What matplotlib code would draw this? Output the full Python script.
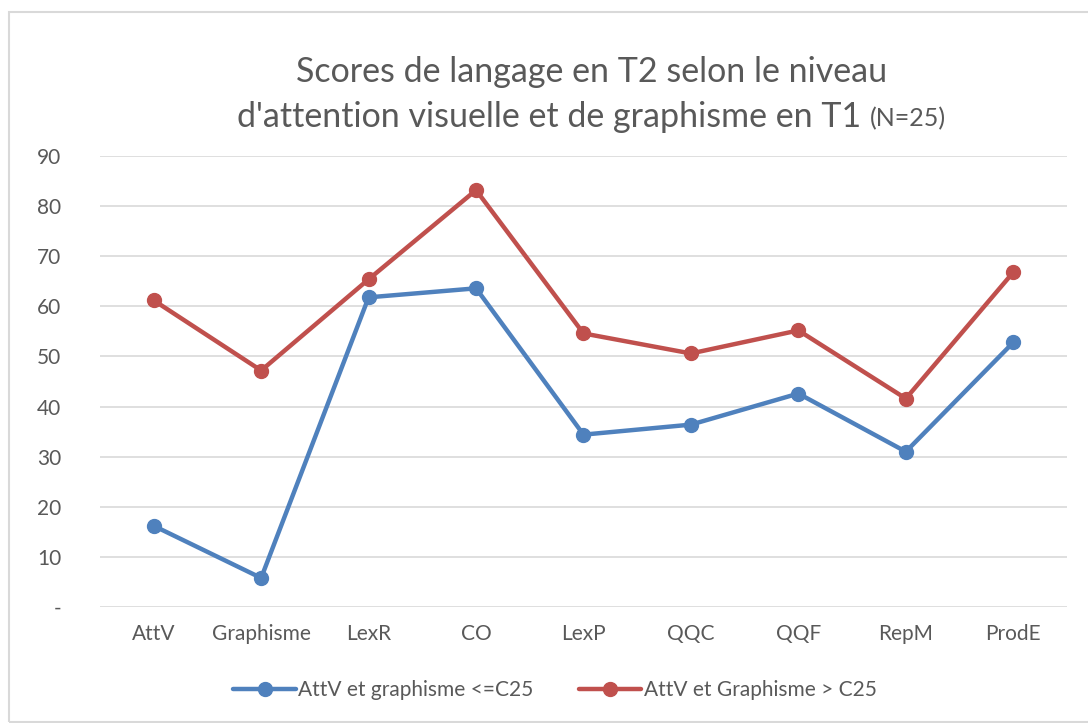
import matplotlib
matplotlib.use("Agg")
import matplotlib.pyplot as plt
from matplotlib.patches import Rectangle

plt.rcParams['font.family'] = ['Lato', 'DejaVu Sans']

# ------------------------------------------------------------------------------
# Data
# ------------------------------------------------------------------------------
categories = ["AttV", "Graphisme", "LexR", "CO", "LexP", "QQC", "QQF", "RepM", "ProdE"]
low_group = [16.2, 5.8, 61.8, 63.6, 34.4, 36.4, 42.6, 31.0, 52.8]
high_group = [61.2, 47.2, 65.4, 83.2, 54.6, 50.6, 55.2, 41.6, 66.8]
series_labels = ["AttV et graphisme <=C25", "AttV et Graphisme > C25"]
y_ticks = [0, 10, 20, 30, 40, 50, 60, 70, 80, 90]
y_tick_labels = ["-", "10", "20", "30", "40", "50", "60", "70", "80", "90"]

BLUE = "#4F81BD"
RED = "#C0504D"
TEXT = "#595959"
GRID = "#D9D9D9"

fig = plt.figure(figsize=(10.88, 7.23), dpi=100)
fig.patch.set_facecolor("white")
ax = fig.add_axes([0.0919, 0.1604, 0.8888, 0.6238])

x = range(len(categories))
for vals, color, label in [(low_group, BLUE, series_labels[0]),
                           (high_group, RED, series_labels[1])]:
    ax.plot(x, vals, color=color, lw=3.2, marker="o", markersize=10,
            label=label, solid_capstyle="round", zorder=3)

ax.set_xlim(-0.5, len(categories) - 0.5)
ax.set_ylim(0, 90)
ax.set_yticks(y_ticks)
ax.set_yticklabels(y_tick_labels)
ax.set_xticks(list(x))
ax.set_xticklabels(categories)
ax.tick_params(axis="both", length=0, labelsize=15, colors=TEXT)
ax.tick_params(axis="y", pad=28)
ax.tick_params(axis="x", pad=12)
ax.grid(axis="y", color=GRID, lw=1.2)
ax.set_axisbelow(True)
for s in ax.spines.values():
    s.set_visible(False)

# outer chart border
fig.patches.append(Rectangle((9 / 1088, 0.002), 1.2, 1 - 12 / 723 - 0.002,
                             transform=fig.transFigure, fill=False,
                             edgecolor="#D9D9D9", lw=1.5))

# title, second line has a smaller "(N=25)"
fig.text(0.544, 1 - 72 / 723, "Scores de langage en T2 selon le niveau",
         ha="center", va="center", fontsize=24.5, color=TEXT)
fig.canvas.draw()
r = fig.canvas.get_renderer()
t_big = fig.text(0, 1 - 117 / 723, "d'attention visuelle et de graphisme en T1 ",
                 ha="left", va="center", fontsize=24.5, color=TEXT)
t_small = fig.text(0, 1 - 119 / 723, "(N=25)", ha="left", va="center",
                   fontsize=18, color=TEXT)
w_big = t_big.get_window_extent(r).width / fig.bbox.width
w_small = t_small.get_window_extent(r).width / fig.bbox.width
x0 = 0.544 - (w_big + w_small) / 2
t_big.set_x(x0)
t_small.set_x(x0 + w_big)

leg = ax.legend(loc="center", bbox_to_anchor=(0.51, 1 - 690 / 723),
                bbox_transform=fig.transFigure, ncol=2, frameon=False,
                fontsize=15, handlelength=3.0, columnspacing=2.2,
                handletextpad=0.1, labelcolor=TEXT)

plt.savefig("out.png", dpi=100, facecolor=fig.get_facecolor())
plt.close()
